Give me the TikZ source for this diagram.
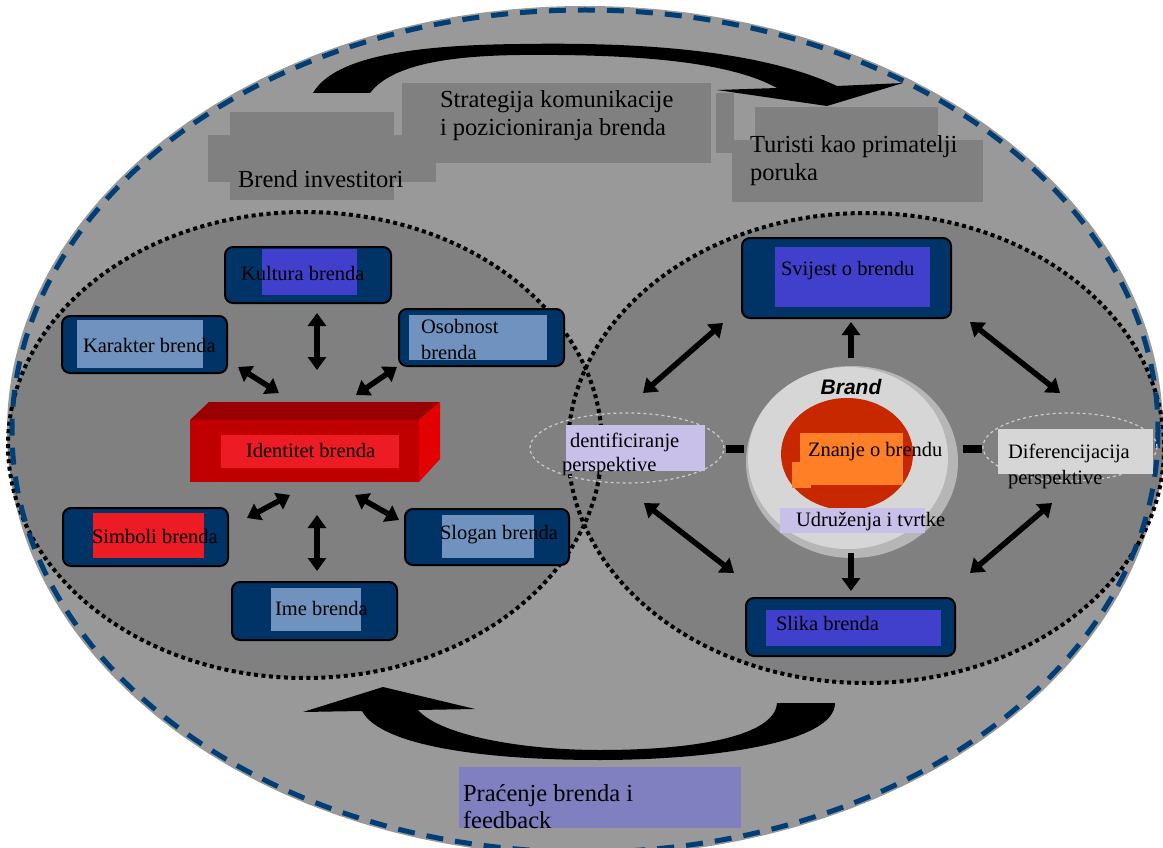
\documentclass[tikz,border=0pt]{standalone}
\usepackage{fontspec}
\setmainfont{Liberation Serif}
\newfontfamily\brandfont{Liberation Sans}
\usetikzlibrary{arrows.meta,shapes.geometric}
\definecolor{outergray}{RGB}{153,153,153}
\definecolor{innergray}{RGB}{128,128,128}
\definecolor{topgray}{RGB}{128,128,128}
\definecolor{navydash}{RGB}{0,62,117}
\definecolor{boxnavy}{RGB}{0,51,102}
\definecolor{kblue}{RGB}{64,64,204}
\definecolor{lblue}{RGB}{112,146,190}
\definecolor{bred}{RGB}{237,28,36}
\definecolor{idfront}{RGB}{192,0,0}
\definecolor{idtop}{RGB}{153,0,0}
\definecolor{idside}{RGB}{226,0,0}
\definecolor{lav}{RGB}{200,192,232}
\definecolor{difgray}{RGB}{214,214,214}
\definecolor{pracbox}{RGB}{128,128,192}
\definecolor{orng}{RGB}{255,127,39}
\definecolor{redc}{RGB}{200,40,0}
\definecolor{disclight}{RGB}{214,214,214}
\definecolor{discrim}{RGB}{182,182,182}
\definecolor{ringline}{RGB}{205,205,205}
\begin{document}
\begin{tikzpicture}[x=1pt,y=-1pt,
  every node/.style={inner sep=0pt, outer sep=0pt},
  lbl/.style={anchor=west, font=\fontsize{20.5}{26}\selectfont, align=left},
  biglbl/.style={anchor=west, font=\fontsize{24.5}{28}\selectfont, align=left},
  navybox/.style={draw=black, line width=2pt, fill=boxnavy, rounded corners=8pt},
  topbox/.style={fill=topgray, anchor=north west},
  dbl/.style={line width=5.5pt, >={Triangle[width=18pt,length=13pt]}, <->},
  sgl/.style={line width=5.5pt, >={Triangle[width=18pt,length=13pt]}, ->},
  dotline/.style={line width=4pt, dash pattern=on 4pt off 3.5pt},
  perspell/.style={draw=ringline, line width=1.2pt, dashed},
]
\useasboundingbox (0,0) rectangle (1163,848);
\begin{scope}
\clip (0,0) rectangle (1163,848);
\fill[outergray] (585,431) ellipse [x radius=578, y radius=425];
\fill[innergray] (305,445) ellipse [x radius=297, y radius=233];
\fill[innergray] (866,448) ellipse [x radius=298, y radius=235];
\draw[dotline] (305,445) ellipse [x radius=297, y radius=233];
\draw[dotline] (866,448) ellipse [x radius=298, y radius=235];
\draw[navydash, line width=5pt, dash pattern=on 17pt off 12pt] (585,431) ellipse [x radius=573, y radius=421];
\end{scope}

% top curved arrow
\fill[black] (313,93) .. controls (335,55) and (420,45) .. (520,44)
  .. controls (640,42) and (760,50) .. (837,86) -- (903,83) -- (827,106) -- (717,90) -- (777,88)
  .. controls (730,62) and (640,54) .. (520,55)
  .. controls (430,56) and (388,70) .. (370,93) -- cycle;

% bottom curved arrow
\fill[black] (835,703) .. controls (835,745) and (700,760) .. (600,760)
  .. controls (480,760) and (380,745) .. (362,711) -- (303,712) -- (383,687) -- (475,709) -- (418,710)
  .. controls (440,735) and (520,750) .. (600,750)
  .. controls (700,750) and (775,735) .. (777,703) -- cycle;

% top text boxes
\node[topbox, minimum width=164pt, minimum height=88pt] (binvA) at (230,112) {};
\node[topbox, minimum width=228pt, minimum height=47pt] (binvB) at (208,135) {};
\node[biglbl] (binvT) at (238,179) {Brend investitori};
\node[topbox, minimum width=309pt, minimum height=80pt] (strat) at (402,83) {};
\node[topbox, minimum width=18pt, minimum height=60pt] (stratB) at (716,93) {};
\node[biglbl] (stratT) at (440,116) {Strategija komunikacije\\i pozicioniranja brenda};
\node[topbox, minimum width=183pt, minimum height=33pt] (turA) at (755,107) {};
\node[topbox, minimum width=251pt, minimum height=62pt] (turB) at (732,140) {};
\node[biglbl] (turT) at (750,161) {Turisti kao primatelji\\poruka};

% bottom text box
\node[anchor=north west, fill=pracbox, minimum width=282pt, minimum height=61pt] (prac) at (459,767) {};
\node[biglbl, font=\fontsize{24.5}{27}\selectfont] (pracT) at (463,807) {Praćenje brenda i\\feedback};

% ---------- left ellipse: identity ----------
\node[navybox, minimum width=166pt, minimum height=56pt] (kultura) at (308,275) {};
\fill[kblue] (262,249) rectangle (357,295);
\node[lbl] at (241,273) {Kultura brenda};

\node[navybox, minimum width=165pt, minimum height=57pt] (karakter) at (144.5,344.5) {};
\fill[lblue] (77,320) rectangle (203,368);
\node[lbl] at (83,345) {Karakter brenda};

\node[navybox, minimum width=165pt, minimum height=57pt] (osobnost) at (481.5,337.5) {};
\fill[lblue] (409,315) rectangle (547,360);
\node[lbl] at (421,339) {Osobnost\\brenda};

\node[navybox, minimum width=165pt, minimum height=58pt] (simboli) at (145.5,537) {};
\fill[bred] (93,513) rectangle (204,558);
\node[lbl] at (92,536) {Simboli brenda};

\node[navybox, minimum width=164pt, minimum height=56pt] (slogan) at (487,537) {};
\fill[lblue] (442,515) rectangle (534,558);
\node[lbl] at (440,535) {Slogan brenda};

\node[navybox, minimum width=165pt, minimum height=58pt] (ime) at (314.5,611) {};
\fill[lblue] (271,588) rectangle (361,631);
\node[lbl] at (275,608) {Ime brenda};

% identity 3D box
\fill[idtop] (190,420) -- (209,402) -- (440,402) -- (419,420) -- cycle;
\fill[idside] (419,420) -- (440,402) -- (440,459) -- (419,482) -- cycle;
\node[anchor=north west, fill=idfront, minimum width=229pt, minimum height=62pt] (ident) at (190,420) {};
\fill[bred] (221,435) rectangle (399,468);
\node[lbl] at (246,450) {Identitet brenda};

% left arrows
\coordinate (a1s) at (317,313); \coordinate (a1e) at (317,370);
\coordinate (a2s) at (238,367); \coordinate (a2e) at (279,393);
\coordinate (a3s) at (397,367); \coordinate (a3e) at (356,395);
\coordinate (a4s) at (247,518); \coordinate (a4e) at (290,495);
\coordinate (a5s) at (317,515); \coordinate (a5e) at (317,571);
\coordinate (a6s) at (355,495); \coordinate (a6e) at (399,520);
\draw[dbl] (a1s) -- (a1e);
\draw[dbl] (a2s) -- (a2e);
\draw[dbl] (a3s) -- (a3e);
\draw[dbl] (a4s) -- (a4e);
\draw[dbl] (a5s) -- (a5e);
\draw[dbl] (a6s) -- (a6e);

% ---------- right ellipse: image ----------
\node[navybox, minimum width=209pt, minimum height=80pt] (svijest) at (846.5,278) {};
\fill[kblue] (775,247) rectangle (930,307);
\node[lbl] at (781,271) {Svijest o brendu};

\node[navybox, minimum width=209pt, minimum height=58pt] (slika) at (850.5,627) {};
\fill[kblue] (766,610) rectangle (941,646);
\node[lbl] at (776,623) {Slika brenda};

% perspective ellipses
\node[perspell, ellipse, minimum width=194pt, minimum height=70pt] (identp) at (627,448) {};
\fill[lav] (566,425) rectangle (705,471);
\node[lbl] at (570,442) {dentificiranje};
\node[lbl] at (562,467) {perspektive};

\node[perspell, ellipse, minimum width=174pt, minimum height=68pt] (difp) at (1070,447) {};
\fill[difgray] (998,429) rectangle (1153,474);
\node[lbl] at (1008,466) {Diferencijacija\\perspektive};

% brand disc
\fill[discrim] (852,462) ellipse [x radius=106, y radius=96];
\node[ellipse, fill=disclight, minimum width=200pt, minimum height=182pt] (disc) at (848,458) {};
\node[font=\brandfont\bfseries\itshape\fontsize{21}{24}\selectfont] (brandT) at (851,387) {Brand};
\fill[redc] (847,454) ellipse [x radius=66, y radius=56];
\fill[orng] (800,433) rectangle (903,485);
\fill[orng] (792,462) rectangle (811,488);
\node[lbl] at (808,452) {Znanje o brendu};
\fill[lav] (780,508) rectangle (925,533);
\node[lbl] at (796,522) {Udruženja i tvrtke};

% bars
\coordinate (b1s) at (726,449); \coordinate (b1e) at (744,449);
\coordinate (b2s) at (963,449); \coordinate (b2e) at (982,449);
\draw[line width=8pt] (b1s) -- (b1e);
\draw[line width=8pt] (b2s) -- (b2e);

% right arrows
\coordinate (r1s) at (851,358); \coordinate (r1e) at (851,322);
\coordinate (r2s) at (851,553); \coordinate (r2e) at (851,591);
\coordinate (r3s) at (723,323); \coordinate (r3e) at (643,393);
\coordinate (r4s) at (970,322); \coordinate (r4e) at (1060,393);
\coordinate (r5s) at (644,503); \coordinate (r5e) at (734,573);
\coordinate (r6s) at (1052,503); \coordinate (r6e) at (970,573);
\draw[sgl] (r1s) -- (r1e);
\draw[sgl] (r2s) -- (r2e);
\draw[dbl] (r3s) -- (r3e);
\draw[dbl] (r4s) -- (r4e);
\draw[dbl] (r5s) -- (r5e);
\draw[dbl] (r6s) -- (r6e);
\end{tikzpicture}
\end{document}
